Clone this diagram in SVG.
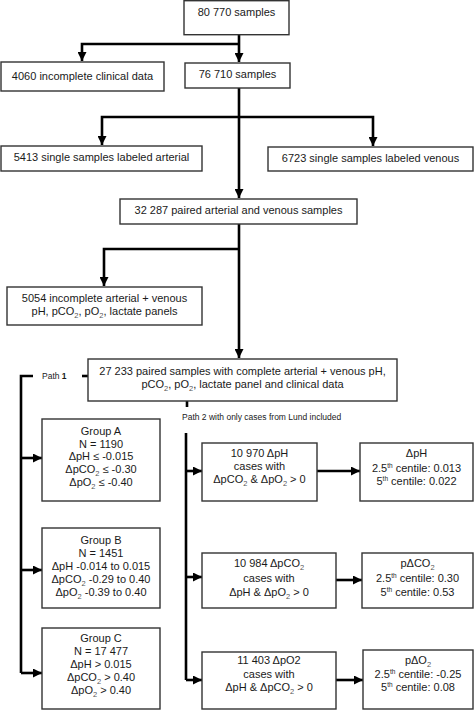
<svg xmlns="http://www.w3.org/2000/svg" width="474" height="710" viewBox="0 0 474 710">
<defs>
<marker id="ah" markerUnits="userSpaceOnUse" markerWidth="9" markerHeight="9" viewBox="0 0 10 10" refX="10" refY="5" orient="auto">
<path d="M0,0 L10,5 L0,10 z" fill="#000"/>
</marker>
<style>
rect.box{fill:#fff;stroke:#333;stroke-width:1.4}
text{font-family:"Liberation Sans",Arial,sans-serif;font-size:11px;fill:#1a1a1a;text-anchor:middle}
text.small{font-size:8.5px;text-anchor:start}
.c{fill:none;stroke:#000;stroke-width:2.6}
.a{marker-end:url(#ah)}
.sub{font-size:7.5px;fill:#555}
.sup{font-size:6.5px}
</style>
</defs>
<rect width="474" height="710" fill="#fff"/>
<g id="connectors">
<path class="c a" d="M239,35 V62"/>
<path class="c a" d="M239,44 H82 V61"/>
<path class="c a" d="M239,88 V198"/>
<path class="c a" d="M239,117 H102 V145"/>
<path class="c a" d="M239,117 H373 V146"/>
<path class="c a" d="M239,224 V358"/>
<path class="c a" d="M239,249 H104 V286"/>
<path class="c" d="M88,376 H82"/>
<path class="c" d="M33,376 H21 V673"/>
<path class="c a" d="M21,458 H42"/>
<path class="c a" d="M21,570 H42"/>
<path class="c a" d="M21,673 H42"/>
<path class="c" d="M187,401 V407"/>
<path class="c" d="M186,433 V680"/>
<path class="c a" d="M186,471 H202"/>
<path class="c a" d="M186,577 H202"/>
<path class="c a" d="M186,680 H202"/>
<path class="c a" d="M317,471 H360"/>
<path class="c a" d="M336,580 H362"/>
<path class="c a" d="M336,680 H363"/>
</g>
<g id="n80770"><rect class="box" x="184" y="0.7" width="105" height="34"/><text x="236.5" y="16">80 770 samples</text></g>
<g id="n4060"><rect class="box" x="1" y="62" width="163" height="29"/><text x="82.5" y="80">4060 incomplete clinical data</text></g>
<g id="n76710"><rect class="box" x="185" y="63" width="105" height="25"/><text x="237.5" y="78">76 710 samples</text></g>
<g id="n5413"><rect class="box" x="1" y="146" width="201" height="25"/><text x="101.5" y="161">5413 single samples  labeled arterial</text></g>
<g id="n6723"><rect class="box" x="268" y="147" width="205" height="24"/><text x="370.5" y="162">6723 single samples  labeled venous</text></g>
<g id="n32287"><rect class="box" x="120" y="199" width="237" height="25"/><text x="238.5" y="214">32 287 paired arterial and venous samples</text></g>
<g id="n5054"><rect class="box" x="7" y="287" width="195" height="38"/><text x="104.5" y="302">5054 incomplete arterial + venous</text><text x="104.5" y="315">pH, pCO<tspan class="sub" dy="2.5">2</tspan><tspan dy="-2.5">, pO</tspan><tspan class="sub" dy="2.5">2</tspan><tspan dy="-2.5">, lactate panels</tspan></text></g>
<g id="n27233"><rect class="box" x="88" y="359" width="309" height="42"/><text x="242.5" y="375">27 233 paired samples with complete arterial + venous pH,</text><text x="242.5" y="388">pCO<tspan class="sub" dy="2.5">2</tspan><tspan dy="-2.5">, pO</tspan><tspan class="sub" dy="2.5">2</tspan><tspan dy="-2.5">, lactate panel and clinical data</tspan></text></g>
<g id="path1"><text class="small" x="42" y="379">Path <tspan font-weight="bold">1</tspan></text></g>
<g id="path2"><text class="small" x="182" y="420">Path 2 with only cases from Lund included</text></g>
<g id="groupA"><rect class="box" x="42" y="419" width="118" height="82"/>
<text x="101" y="435">Group A</text><text x="101" y="448">N = 1190</text><text x="101" y="460">ΔpH ≤ -0.015</text><text x="101" y="473">ΔpCO<tspan class="sub" dy="2.5">2</tspan><tspan dy="-2.5"> ≤ -0.30</tspan></text><text x="101" y="486">ΔpO<tspan class="sub" dy="2.5">2</tspan><tspan dy="-2.5"> ≤ -0.40</tspan></text></g>
<g id="groupB"><rect class="box" x="42" y="528" width="118" height="80"/>
<text x="101" y="544">Group B</text><text x="101" y="557">N = 1451</text><text x="101" y="570">ΔpH -0.014 to 0.015</text><text x="101" y="583">ΔpCO<tspan class="sub" dy="2.5">2</tspan><tspan dy="-2.5"> -0.29 to 0.40</tspan></text><text x="101" y="596">ΔpO<tspan class="sub" dy="2.5">2</tspan><tspan dy="-2.5"> -0.39 to 0.40</tspan></text></g>
<g id="groupC"><rect class="box" x="42" y="628" width="118" height="81"/>
<text x="101" y="642">Group C</text><text x="101" y="655">N = 17 477</text><text x="101" y="668">ΔpH &gt; 0.015</text><text x="101" y="681">ΔpCO<tspan class="sub" dy="2.5">2</tspan><tspan dy="-2.5"> &gt; 0.40</tspan></text><text x="101" y="694">ΔpO<tspan class="sub" dy="2.5">2</tspan><tspan dy="-2.5"> &gt; 0.40</tspan></text></g>
<g id="n10970"><rect class="box" x="202" y="443" width="115" height="58"/>
<text x="259.5" y="457">10 970 ΔpH</text><text x="259.5" y="470">cases with</text><text x="259.5" y="483">ΔpCO<tspan class="sub" dy="2.5">2</tspan><tspan dy="-2.5"> &amp; ΔpO</tspan><tspan class="sub" dy="2.5">2</tspan><tspan dy="-2.5"> &gt; 0</tspan></text></g>
<g id="rpH"><rect class="box" x="360" y="443" width="113" height="58"/>
<text x="416.5" y="457">ΔpH</text><text x="416.5" y="472">2.5<tspan class="sup" dy="-4">th</tspan><tspan dy="4"> centile: 0.013</tspan></text><text x="416.5" y="485">5<tspan class="sup" dy="-4">th</tspan><tspan dy="4"> centile: 0.022</tspan></text></g>
<g id="n10984"><rect class="box" x="202" y="553" width="134" height="55"/>
<text x="269" y="567">10 984 ΔpCO<tspan class="sub" dy="2.5">2</tspan></text><text x="269" y="582">cases with</text><text x="269" y="596">ΔpH &amp; ΔpO<tspan class="sub" dy="2.5">2</tspan><tspan dy="-2.5"> &gt; 0</tspan></text></g>
<g id="rpCO2"><rect class="box" x="362" y="553" width="111" height="55"/>
<text x="417.5" y="567">pΔCO<tspan class="sub" dy="2.5">2</tspan></text><text x="417.5" y="582">2.5<tspan class="sup" dy="-4">th</tspan><tspan dy="4"> centile: 0.30</tspan></text><text x="417.5" y="596">5<tspan class="sup" dy="-4">th</tspan><tspan dy="4"> centile: 0.53</tspan></text></g>
<g id="n11403"><rect class="box" x="202" y="652" width="134" height="57"/>
<text x="269" y="664">11 403 ΔpO2</text><text x="269" y="678">cases with</text><text x="269" y="691">ΔpH &amp; ΔpCO<tspan class="sub" dy="2.5">2</tspan><tspan dy="-2.5"> &gt; 0</tspan></text></g>
<g id="rpO2"><rect class="box" x="363" y="650" width="110" height="59"/>
<text x="418" y="664">pΔO<tspan class="sub" dy="2.5">2</tspan></text><text x="418" y="678">2.5<tspan class="sup" dy="-4">th</tspan><tspan dy="4"> centile: -0.25</tspan></text><text x="418" y="691">5<tspan class="sup" dy="-4">th</tspan><tspan dy="4"> centile: 0.08</tspan></text></g>
</svg>
